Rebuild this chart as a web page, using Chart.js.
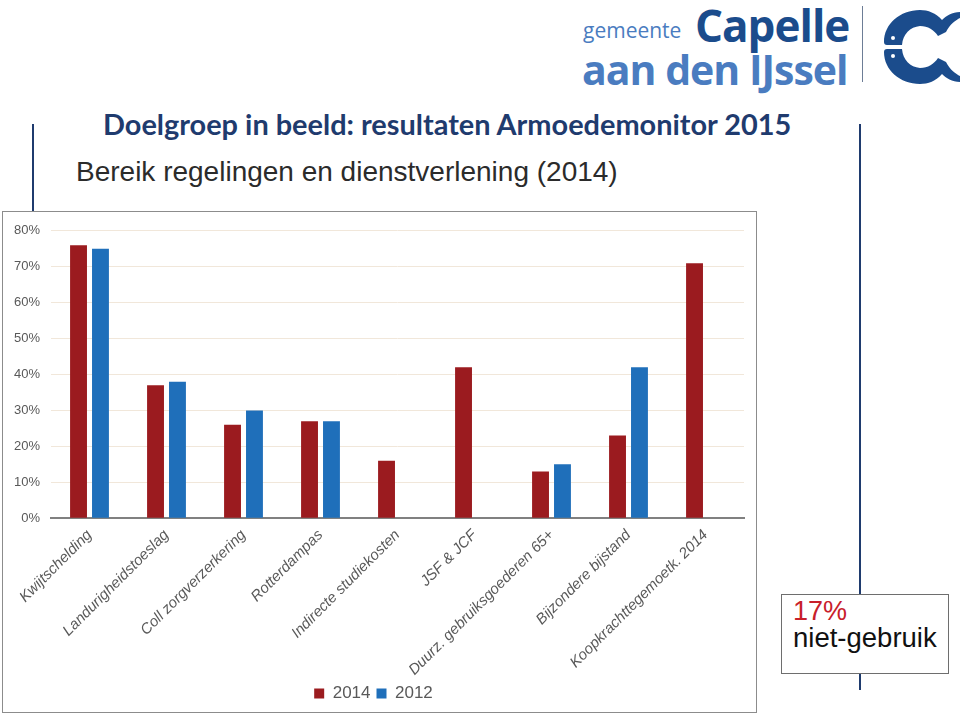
<!DOCTYPE html>
<html>
<head>
<meta charset="utf-8">
<script src="https://cdn.jsdelivr.net/npm/chart.js@4.4.1/dist/chart.umd.min.js"></script>
<style>
  body { margin: 0; width: 960px; height: 715px; background: #fff; position: relative; overflow: hidden; font-family: "Liberation Sans", Arial, sans-serif; }
  .abs { position: absolute; }
  #title { left: 103px; top: 106px; font-family: Lato, "Open Sans", sans-serif; font-weight: bold; font-size: 28.9px; color: #1f3b6e; white-space: nowrap; }
  #subtitle { left: 76px; top: 156px; font-size: 28px; color: #2b2b2b; white-space: nowrap; }
  #chartBox { left: 2px; top: 211px; width: 753px; height: 500px; border: 1px solid #8c8c8c; }
  #note { left: 781px; top: 594px; width: 166px; height: 78px; border: 1px solid #6e6e6e; background: #fff; }
  #note .pct { position: absolute; left: 11px; top: 1px; font-size: 27px; color: #c8202a; }
  #note .txt { position: absolute; left: 11px; top: 27px; font-size: 27.5px; color: #111; white-space: nowrap; }
  .vline { background: #1f3b6e; width: 2px; }
  #logo1 { left: 583px; top: 16px; font-family: "Open Sans", sans-serif; font-size: 21px; color: #4a7cc0; }
  #logo2 { left: 695px; top: -5px; font-family: "Open Sans", sans-serif; font-weight: bold; font-size: 44px; color: #1b4c8c; letter-spacing: -1px; }
  #logo3 { left: 582px; top: 41px; font-family: "Open Sans", sans-serif; font-weight: bold; font-size: 41px; color: #4a7cc0; letter-spacing: -1px; }
</style>
</head>
<body>
<div class="abs" id="logo1">gemeente</div>
<div class="abs" id="logo2">Capelle</div>
<div class="abs" id="logo3">aan den IJssel</div>
<div class="abs vline" style="left:862px;top:6px;height:76px;width:1px;background:#6d7d96"></div>
<svg class="abs" style="left:876px;top:4px" width="84" height="84" viewBox="0 0 84 84">
  <path d="M44 6 C24 6 8 20 8 38 C8 40 9 41 11 41 L26 41 C27 30 34 23 44 22 C52 22 58 26 62 32 L70 28 C74 20 80 16 84 14 L84 8 C76 8 70 12 66 16 C60 9 52 6 44 6 Z" fill="#1b4c8c"/>
  <path d="M44 80 C24 80 8 66 8 48 C8 46 9 45 11 45 L26 45 C27 56 34 63 44 64 C52 64 58 60 62 54 L70 58 C74 66 80 70 84 72 L84 78 C76 78 70 74 66 70 C60 77 52 80 44 80 Z" fill="#1b4c8c"/>
  <circle cx="17" cy="34" r="2" fill="#fff"/>
  <circle cx="17" cy="52" r="2" fill="#fff"/>
</svg>
<div class="abs" id="title">Doelgroep in beeld: resultaten Armoedemonitor 2015</div>
<div class="abs" id="subtitle">Bereik regelingen en dienstverlening (2014)</div>
<div class="abs vline" style="left:32px;top:124px;height:88px"></div>
<div class="abs vline" style="left:859px;top:124px;height:566px"></div>
<div class="abs" id="chartBox"><canvas id="c"></canvas></div>
<div class="abs" id="note"><span class="pct">17%</span><span class="txt">niet-gebruik</span></div>
<script>
// categories and series (percentages)
const categories = [
  'Kwijtschelding',
  'Landurigheidstoeslag',
  'Coll zorgverzerkering',
  'Rotterdampas',
  'Indirecte studiekosten',
  'JSF & JCF',
  'Duurz. gebruiksgoederen 65+',
  'Bijzondere bijstand',
  'Koopkrachttegemoetk. 2014'
];
const values2014 = [76, 37, 26, 27, 16, 42, 13, 23, 71];
const values2012 = [75, 38, 30, 27, null, null, 15, 42, null];
const yTicks = [0, 10, 20, 30, 40, 50, 60, 70, 80];

const RED = '#9b1b1f';
const BLUE = '#1f6fba';
const FONT = '"Liberation Sans", Arial, sans-serif';

new Chart(document.getElementById('c'), {
  type: 'bar',
  data: {
    labels: categories,
    datasets: [
      { label: '2014', data: values2014, backgroundColor: RED },
      { label: '2012', data: values2012, backgroundColor: BLUE }
    ]
  },
  options: {
    responsive: true,
    maintainAspectRatio: false,
    animation: false,
    layout: { padding: { top: 3, right: 12, left: 0, bottom: 0 } },
    datasets: { bar: { categoryPercentage: 0.57, barPercentage: 0.77 } },
    plugins: {
      legend: {
        position: 'bottom',
        labels: {
          boxWidth: 10, boxHeight: 10, padding: 6,
          color: '#595959',
          font: { family: FONT, size: 17 }
        }
      },
      tooltip: { enabled: false }
    },
    scales: {
      x: {
        grid: { display: false },
        border: { color: '#808080', width: 2 },
        ticks: {
          minRotation: 45, maxRotation: 45,
          color: '#595959', padding: 0,
          font: { family: FONT, size: 15, style: 'italic' }
        }
      },
      y: {
        min: 0, max: 80,
        afterBuildTicks: axis => { axis.ticks = yTicks.map(v => ({ value: v })); },
        afterFit: axis => { axis.width = 48; },
        grid: { color: '#f1e7da', drawTicks: false },
        border: { display: false },
        ticks: {
          color: '#595959', padding: 11,
          callback: v => v + '%',
          font: { family: FONT, size: 13 }
        }
      }
    }
  }
});
</script>
</body>
</html>
